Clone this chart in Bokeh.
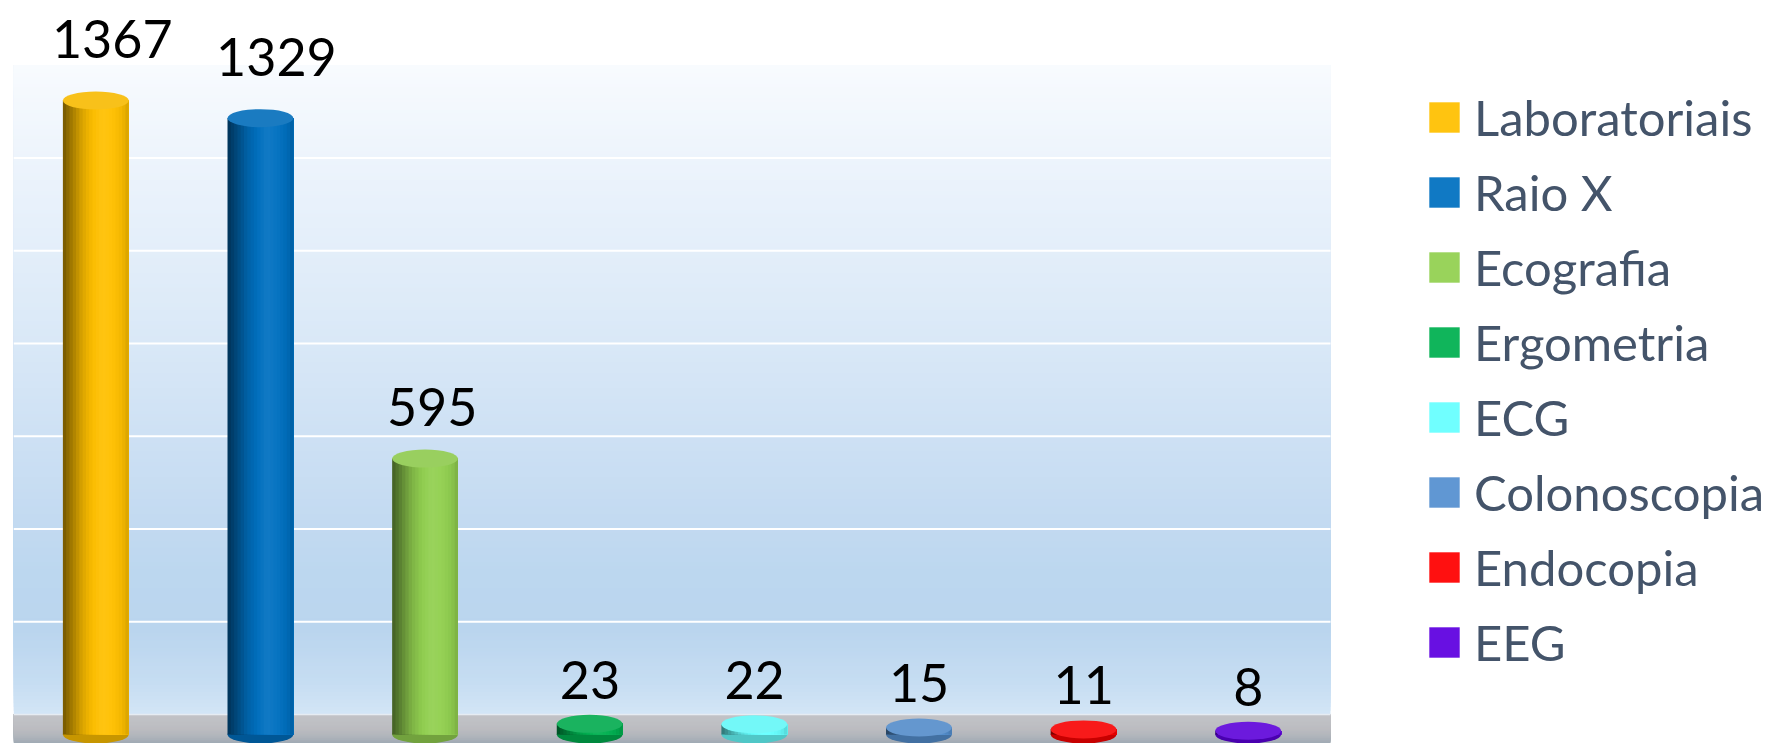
from bokeh.plotting import figure
from bokeh.models import Range1d, ColumnDataSource, Legend, LegendItem
from bokeh.core.properties import value
from bokeh.embed import file_html
from bokeh.resources import INLINE

# ---------------- data ----------------
categories = ["Laboratoriais", "Raio X", "Ecografia", "Ergometria", "ECG",
              "Colonoscopia", "Endocopia", "EEG"]
counts = [1367, 1329, 595, 23, 22, 15, 11, 8]
colors = ["#FFC000", "#0070C0", "#92D050", "#00B050", "#66FFFF",
          "#5590D0", "#FF0000", "#5E00E0"]
grid_values = [200, 400, 600, 800, 1000, 1200]
axis_max = 1400

# ---------------- helpers (style only) ----------------
def mix(hex_color, f=1.0, w=0.0):
    r, g, b = [int(hex_color[i:i + 2], 16) for i in (1, 3, 5)]
    out = []
    for c in (r, g, b):
        c = c * f
        c = c + (255 - c) * w
        out.append(int(round(min(255, max(0, c)))))
    return "#%02x%02x%02x" % tuple(out)

def lerp_hex(a, b, t):
    ra = [int(a[i:i + 2], 16) for i in (1, 3, 5)]
    rb = [int(b[i:i + 2], 16) for i in (1, 3, 5)]
    return "#%02x%02x%02x" % tuple(int(round(x + (y - x) * t)) for x, y in zip(ra, rb))

def gradient(stops, lo, hi, step):
    # painter's strips: each strip runs from its start up to `hi`
    y0s, cols = [], []
    y = lo
    while y < hi:
        yc = y + step / 2
        for (va, ca), (vb, cb) in zip(stops[:-1], stops[1:]):
            if va <= yc <= vb:
                cols.append(lerp_hex(ca, cb, (yc - va) / (vb - va)))
                break
        else:
            cols.append(stops[-1][1] if yc > stops[-1][0] else stops[0][1])
        y0s.append(y)
        y += step
    return y0s, [hi] * len(y0s), cols

# ---------------- geometry ----------------
W, H = 1770, 743
left_px = 13
plot_px = 1317                # width of the category area
K = 92.75 / 200.0             # px per unit on the back wall
floor_px = 714.0              # back-wall zero, px from top
depth_px = 20.0               # front plane offset
back_start = -(H - floor_px) / K
back_end = floor_px / K
shift = depth_px / K
ncat = len(categories)
x_end = ncat * (W - left_px) / plot_px

p = figure(width=W, height=H, output_backend="svg", toolbar_location=None,
           x_range=Range1d(0, x_end), y_range=Range1d(back_start, back_end),
           x_axis_location=None, y_axis_location=None,
           min_border_left=left_px, min_border_right=0,
           min_border_top=0, min_border_bottom=0,
           background_fill_color="white", border_fill_color="white",
           outline_line_color=None)
p.extra_y_ranges = {"front": Range1d(back_start + shift, back_end + shift)}
p.grid.visible = False

# back wall gradient
wall_stops = [(0, "#D3E5F6"), (70, "#C6DDF2"), (180, "#BAD5EE"), (300, "#BCD7EF"),
              (420, "#C3DAF1"), (800, "#D9E8F7"), (1200, "#EDF4FC"), (1400, "#F8FBFE")]
y0s, y1s, cols = gradient(wall_stops, 0, axis_max, 8)
p.quad(left=0, right=ncat, bottom=y0s, top=y1s, fill_color=cols, line_color=None)

# floor
floor_stops = [(back_start, "#9FA9B3"), (-45, "#B2B6BC"), (-30, "#BCBDC1"), (0, "#C2C3C7")]
f0, f1, fc = gradient(floor_stops, back_start, 0, 2)
p.quad(left=0, right=ncat, bottom=f0, top=f1, fill_color=fc, line_color=None)

# grid lines
p.segment(x0=0, x1=ncat, y0=grid_values, y1=grid_values, line_color="white", line_width=2.2)
p.segment(x0=0, x1=ncat, y0=0, y1=0, line_color="#E6ECF2", line_width=1.5)

# ---------------- bars (cylinders) ----------------
bar_w = 0.40
xpos = [i + 0.5 for i in range(ncat)]
src = ColumnDataSource(dict(
    x=xpos, cat=categories, count=counts,
    bottom_col=[mix(c, 0.78) for c in colors],
    top_col=[mix(c, 0.97, 0.10) for c in colors],
    label=[str(v) for v in counts],
    lab_dx=[v * 0.012 for v in counts],
    lab_dy=[-(44 + 0.013 * v) for v in counts],
))

p.ellipse(x="x", y=0, width=bar_w, height=18, height_units="screen",
          fill_color="bottom_col", line_color=None, source=src, y_range_name="front")

profile = [(0.0, 0.45, 0.0), (0.12, 0.62, 0.0), (0.3, 0.86, 0.0), (0.45, 0.98, 0.0),
           (0.6, 1.0, 0.07), (0.75, 1.0, 0.03), (0.9, 0.95, 0.0), (1.0, 0.84, 0.0)]

def prof(t):
    for (ta, fa, wa), (tb, fb, wb) in zip(profile[:-1], profile[1:]):
        if ta <= t <= tb:
            u = (t - ta) / (tb - ta)
            return fa + (fb - fa) * u, wa + (wb - wa) * u
    return profile[-1][1], profile[-1][2]

N = 20
legend_r = None
for k in range(N):
    t = (k + 0.5) / N
    f, w = prof(t)
    left = -bar_w / 2 + k * bar_w / N
    right = bar_w / 2
    centre = (left + right) / 2
    width = right - left
    xs_name = "x_%d" % k
    col_name = "c_%d" % k
    src.data[xs_name] = [x + centre for x in xpos]
    src.data[col_name] = [mix(c, f, w) for c in colors]
    r = p.vbar(x=xs_name, top="count", bottom=0, width=width,
               fill_color=col_name, line_color=None,
               source=src, y_range_name="front")
    if k == int(N * 0.6):
        legend_r = r

p.ellipse(x="x", y="count", width=bar_w, height=18, height_units="screen",
          fill_color="top_col", line_color=None, source=src, y_range_name="front")

# value labels
p.text(x="x", y="count", text="label", source=src, y_range_name="front",
       x_offset="lab_dx", y_offset="lab_dy",
       text_font=value("Lato"), text_font_size="52px", text_color="black",
       text_align="center", text_baseline="alphabetic")

# ---------------- legend ----------------
items = [LegendItem(label=c, renderers=[legend_r], index=i) for i, c in enumerate(categories)]
legend = Legend(items=items, location=(1412, 72), orientation="vertical",
                glyph_width=38, glyph_height=38, label_standoff=11,
                label_text_font="Lato", label_text_font_size="49px",
                label_text_color="#44546A", label_height=59, spacing=16,
                padding=0, margin=0, border_line_color=None,
                background_fill_alpha=0)
p.add_layout(legend, "center")

open("out.html", "w").write(file_html(p, INLINE))
